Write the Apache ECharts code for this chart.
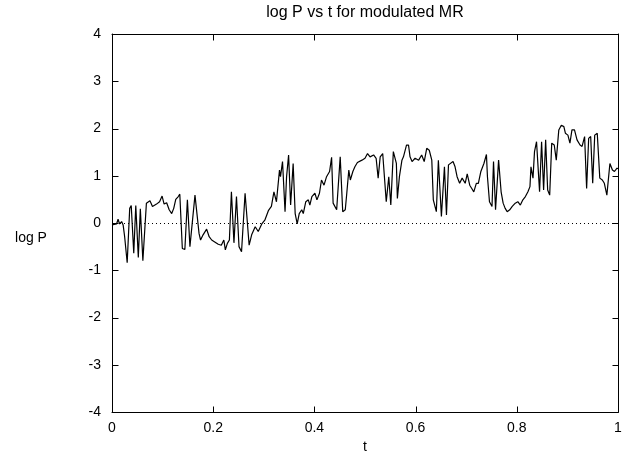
<!DOCTYPE html>
<html>
<head>
<meta charset="utf-8">
<script src="https://cdn.jsdelivr.net/npm/echarts@6/dist/echarts.min.js"></script>
<style>html,body{margin:0;padding:0;background:#fff}#c{width:632px;height:454px}</style>
</head>
<body>
<div id="c"></div>
<script>
var titleText = "log P vs t for modulated MR";
var xName = "t";
var yName = "log P";
var xTicks = [0, 0.2, 0.4, 0.6, 0.8, 1];
var yTicks = [-4, -3, -2, -1, 0, 1, 2, 3, 4];

var tVals = [
0.000,0.002,0.009,0.012,0.015,0.019,0.022,0.025,0.030,0.035,0.038,0.043,0.047,0.052,0.056,0.061,0.068,0.075,0.080,0.088,
0.094,0.099,0.103,0.108,0.113,0.118,0.122,0.126,0.131,0.134,0.139,0.144,0.149,0.154,0.164,0.167,0.172,0.175,0.180,0.187,
0.192,0.197,0.203,0.210,0.216,0.221,0.224,0.228,0.232,0.236,0.241,0.246,0.251,0.256,0.263,0.271,0.276,0.283,0.289,0.296,
0.302,0.309,0.315,0.320,0.325,0.331,0.333,0.337,0.342,0.345,0.349,0.353,0.358,0.362,0.366,0.370,0.375,0.378,0.383,0.388,
0.391,0.395,0.401,0.405,0.410,0.414,0.419,0.424,0.430,0.434,0.437,0.444,0.447,0.451,0.456,0.461,0.464,0.468,0.471,0.476,
0.480,0.485,0.494,0.500,0.505,0.510,0.517,0.522,0.526,0.530,0.535,0.542,0.547,0.551,0.556,0.562,0.564,0.568,0.573,0.576,
0.582,0.586,0.589,0.593,0.599,0.606,0.612,0.617,0.622,0.627,0.632,0.635,0.641,0.645,0.651,0.657,0.661,0.665,0.674,0.678,
0.682,0.687,0.692,0.698,0.702,0.707,0.711,0.715,0.720,0.724,0.729,0.735,0.740,0.742,0.746,0.751,0.754,0.758,0.764,0.769,
0.773,0.777,0.781,0.786,0.791,0.797,0.802,0.807,0.812,0.817,0.822,0.826,0.828,0.832,0.835,0.839,0.841,0.845,0.849,0.853,
0.857,0.861,0.865,0.869,0.874,0.878,0.883,0.888,0.893,0.896,0.901,0.905,0.909,0.914,0.919,0.925,0.929,0.934,0.938,0.942,
0.946,0.950,0.954,0.959,0.964,0.969,0.973,0.978,0.984,0.989,0.993,0.998,1.000
];
var logP = [
-0.04,-0.08,-0.02,0.08,-0.02,0.03,-0.04,-0.29,-0.84,0.31,0.37,-0.64,0.37,-0.73,0.30,-0.80,0.42,0.47,0.35,0.40,
0.45,0.57,0.40,0.43,0.28,0.20,0.31,0.50,0.56,0.61,-0.54,-0.56,0.49,-0.50,0.59,0.59,-0.22,-0.36,-0.25,-0.13,
-0.29,-0.36,-0.40,-0.45,-0.47,-0.36,-0.57,-0.43,-0.36,0.66,-0.42,0.56,-0.50,-0.61,0.63,-0.47,-0.25,-0.08,-0.18,-0.02,
0.06,0.26,0.35,0.66,0.45,1.12,0.98,1.30,0.24,0.98,1.44,0.38,1.26,0.20,-0.02,0.20,0.28,0.20,0.45,0.49,
0.38,0.56,0.63,0.49,0.63,0.91,0.80,0.98,1.09,1.39,0.42,0.28,0.24,1.40,0.24,0.28,0.63,1.12,0.91,1.09,
1.19,1.28,1.33,1.37,1.47,1.40,1.44,1.37,0.95,1.40,1.47,0.45,0.98,0.38,1.51,1.26,0.52,0.98,1.33,1.40,
1.65,1.65,1.40,1.30,1.37,1.33,1.44,1.30,1.58,1.54,1.33,0.49,0.24,1.33,0.14,1.19,0.17,1.23,1.30,1.19,
0.98,0.84,0.95,0.84,1.04,0.80,0.73,0.66,0.84,0.84,1.09,1.26,1.45,0.98,0.45,0.35,1.30,0.28,1.33,0.66,
0.42,0.31,0.24,0.28,0.35,0.42,0.45,0.38,0.49,0.56,0.66,0.77,1.19,0.95,1.51,1.72,1.72,0.66,1.72,0.70,
1.76,0.70,0.59,1.69,1.65,1.33,1.97,2.07,2.04,1.90,1.86,1.69,1.97,1.97,1.76,1.65,1.62,1.83,0.73,1.79,
1.83,0.84,1.86,1.90,0.95,0.91,0.84,0.59,1.26,1.12,1.09,1.16,1.15
];

var points = tVals.map(function (t, i) { return [t, logP[i]]; });

var font = "Liberation Sans, Arial, Helvetica, sans-serif";
var fs = 14;
var tickLen = 6;
var xMin = xTicks[0], xMax = xTicks[xTicks.length - 1];
var yMin = yTicks[0], yMax = yTicks[yTicks.length - 1];
var chart = echarts.init(document.getElementById('c'), null, {renderer: 'canvas'});

function axisBase(show) {
  return {
    axisLine: {show: true, onZero: false, lineStyle: {color: '#000', width: 1}},
    axisTick: {show: false},
    splitLine: {show: false},
    axisLabel: {show: show, color: '#000', fontFamily: font, fontSize: fs}
  };
}

var xMain = Object.assign(axisBase(true), {
  type: 'value', position: 'bottom', min: xMin, max: xMax, interval: xTicks[1] - xTicks[0],
  name: xName, nameLocation: 'middle', nameGap: 28,
  nameTextStyle: {color: '#000', fontFamily: font, fontSize: fs}
});
xMain.axisLabel.margin = 9;
var xTop = Object.assign(axisBase(false), {
  type: 'value', position: 'top', min: xMin, max: xMax, interval: xTicks[1] - xTicks[0]
});
var yMain = Object.assign(axisBase(true), {
  type: 'value', position: 'left', min: yMin, max: yMax, interval: yTicks[1] - yTicks[0]
});
yMain.axisLabel.margin = 11;
var yRight = Object.assign(axisBase(false), {
  type: 'value', position: 'right', min: yMin, max: yMax, interval: yTicks[1] - yTicks[0]
});

function tickLine(x1, y1, x2, y2) {
  return {type: 'line',
    shape: {x1: Math.round(x1) + 0.5, y1: Math.round(y1) + 0.5, x2: Math.round(x2) + 0.5, y2: Math.round(y2) + 0.5},
    style: {stroke: '#000', lineWidth: 1}};
}

chart.setOption({
  animation: false,
  backgroundColor: '#fff',
  title: [{
    text: titleText, left: 360, top: 0, textAlign: 'center',
    textStyle: {color: '#000', fontFamily: font, fontSize: 16, fontWeight: 'normal'}
  }, {
    text: yName, left: 26, top: 226, textAlign: 'center',
    textStyle: {color: '#000', fontFamily: font, fontSize: fs, fontWeight: 'normal'}
  }],
  grid: {left: 112, right: 14, top: 34, bottom: 42, containLabel: false, outerBoundsMode: 'none'},
  xAxis: [xMain, xTop],
  yAxis: [yMain, yRight],
  series: [{
    type: 'line',
    data: points,
    xAxisIndex: 0, yAxisIndex: 0,
    showSymbol: false,
    lineStyle: {color: '#000', width: 1.2},
    z: 3,
    markLine: {
      silent: true,
      symbol: ['none', 'none'],
      label: {show: false},
      lineStyle: {color: '#000', width: 1, type: [1, 3]},
      data: [{yAxis: 0}]
    }
  }, {
    type: 'custom',
    silent: true,
    clip: false,
    z: 5,
    xAxisIndex: 0, yAxisIndex: 0,
    data: xTicks.map(function (v) { return [v, 0]; }),
    renderItem: function (params, api) {
      var v = api.value(0);
      var pb = api.coord([v, yMin]);
      var pt = api.coord([v, yMax]);
      return {type: 'group', children: [
        tickLine(pb[0], pb[1], pb[0], pb[1] - tickLen),
        tickLine(pt[0], pt[1], pt[0], pt[1] + tickLen)
      ]};
    }
  }, {
    type: 'custom',
    silent: true,
    clip: false,
    z: 5,
    xAxisIndex: 0, yAxisIndex: 0,
    data: yTicks.map(function (v) { return [0, v]; }),
    renderItem: function (params, api) {
      var v = api.value(1);
      var pl = api.coord([xMin, v]);
      var pr = api.coord([xMax, v]);
      return {type: 'group', children: [
        tickLine(pl[0], pl[1], pl[0] + tickLen, pl[1]),
        tickLine(pr[0], pr[1], pr[0] - tickLen, pr[1])
      ]};
    }
  }]
});
</script>
</body>
</html>
